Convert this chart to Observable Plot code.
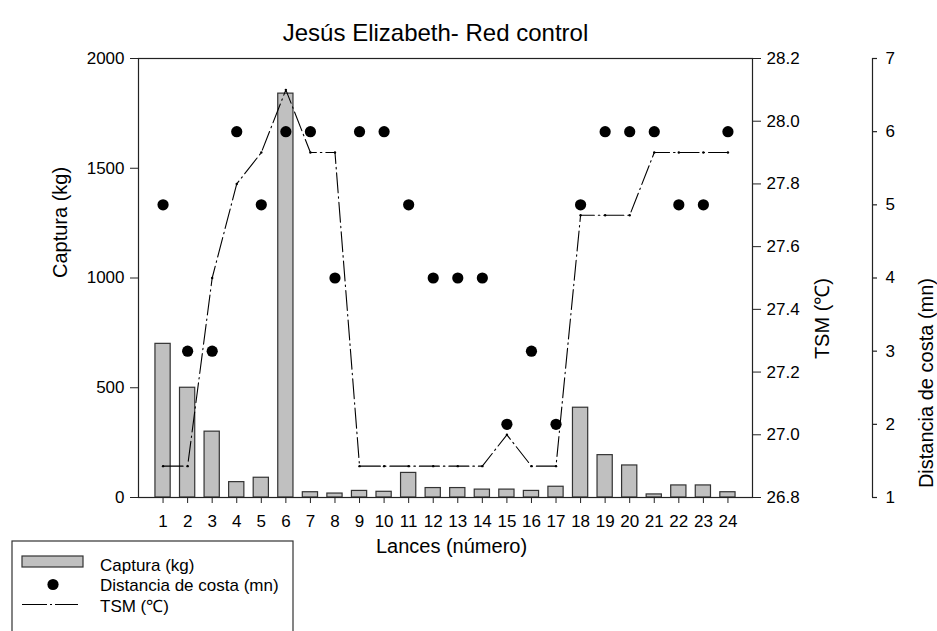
<!DOCTYPE html>
<html>
<head>
<meta charset="utf-8">
<script src="https://cdn.jsdelivr.net/npm/d3@7"></script>
<script src="https://cdn.jsdelivr.net/npm/@observablehq/plot@0.6"></script>
<style>
  html, body { margin: 0; padding: 0; background: #fff; }
  svg { display: block; }
</style>
</head>
<body>
<div id="chart"></div>
<script>
// ---- data ----
const lances = [1,2,3,4,5,6,7,8,9,10,11,12,13,14,15,16,17,18,19,20,21,22,23,24];
const captura = [700,500,300,70,90,1840,24,18,30,26,112,43,43,36,36,30,49,409,193,146,14,55,55,24];
const distancia = [5,3,3,6,5,6,6,4,6,6,5,4,4,4,2,3,2,5,6,6,6,5,5,6];
const tsm = [26.9,26.9,27.5,27.8,27.9,28.1,27.9,27.9,26.9,26.9,26.9,26.9,26.9,26.9,27.0,26.9,26.9,27.7,27.7,27.7,27.9,27.9,27.9,27.9];
const capturaTicks = [0,500,1000,1500,2000];
const tsmTicks = [26.8,27.0,27.2,27.4,27.6,27.8,28.0,28.2];
const distTicks = [1,2,3,4,5,6,7];

// ---- scale mapping helpers (secondary axes onto the main y scale) ----
const tsmDomain = [26.8, 28.2];
const distDomain = [1, 7];
const yMax = 2000;
const tsmToY = t => (t - tsmDomain[0]) / (tsmDomain[1] - tsmDomain[0]) * yMax;
const yToTsm = y => tsmDomain[0] + y / yMax * (tsmDomain[1] - tsmDomain[0]);
const distToY = d => (d - distDomain[0]) / (distDomain[1] - distDomain[0]) * yMax;

const rows = lances.map((l, i) => ({lance: l, captura: captura[i], dist: distancia[i], tsm: tsm[i]}));

const W = 937, H = 631;
const mL = 138, mR = 185, mT = 58, mB = 134;
const xDomain = [0, 25];
const pxPerUnit = (W - mL - mR) / (xDomain[1] - xDomain[0]);
const distAxisX = xDomain[1] + 120 / pxPerUnit;   // third axis, 120px right of frame
const distTickLen = 5 / pxPerUnit;
const barHalf = 0.31;
const font = "'Liberation Sans', Arial, Helvetica, sans-serif";
const dash = "20,4,1.5,4";

const chart = Plot.plot({
  width: W, height: H,
  marginLeft: mL, marginRight: mR, marginTop: mT, marginBottom: mB,
  style: {fontFamily: font, fontSize: "17px", color: "#000", background: "#fff", overflow: "visible"},
  x: {domain: xDomain},
  y: {domain: [0, yMax]},
  marks: [
    Plot.rect(rows, {x1: d => d.lance - barHalf, x2: d => d.lance + barHalf, y1: 0, y2: "captura",
      fill: "#c0c0c0", stroke: "#333", strokeWidth: 1.2}),
    Plot.line(rows, {x: "lance", y: d => tsmToY(d.tsm), stroke: "#000", strokeWidth: 1.1, strokeDasharray: dash}),
    Plot.dot(rows, {x: "lance", y: d => tsmToY(d.tsm), r: 1.2, fill: "#000"}),
    Plot.dot(rows, {x: "lance", y: d => distToY(d.dist), r: 5.6, fill: "#000"}),
    Plot.frame({stroke: "#222", strokeWidth: 1.2}),
    // bottom axis
    Plot.axisX(lances, {tickSize: 6, tickPadding: 11, tickFormat: d => String(d), label: null, stroke: "#222"}),
    // left axis
    Plot.axisY(capturaTicks, {anchor: "left", tickSize: 8, tickPadding: 6, tickFormat: d => String(d), label: null, stroke: "#222"}),
    // right TSM axis
    Plot.axisY(tsmTicks.map(tsmToY), {anchor: "right", tickSize: 8, tickPadding: 6,
      tickFormat: v => yToTsm(v).toFixed(1), label: null, stroke: "#222"}),
    // third axis: distance
    Plot.ruleX([distAxisX], {y1: 0, y2: yMax, stroke: "#222", strokeWidth: 1.2}),
    Plot.ruleY(distTicks, {y: d => distToY(d), x1: distAxisX, x2: distAxisX + distTickLen, stroke: "#222", strokeWidth: 1.2}),
    Plot.text(distTicks, {x: distAxisX, y: d => distToY(d), text: d => String(d), dx: 13, textAnchor: "start"}),
    // axis titles
    Plot.text(["Captura (kg)"], {text: d => d, frameAnchor: "left", dx: -78, rotate: -90, fontSize: 20}),
    Plot.text(["TSM (\u2103)"], {text: d => d, frameAnchor: "right", dx: 70, rotate: -90, fontSize: 20}),
    Plot.text(["Distancia de costa (mn)"], {text: d => d, frameAnchor: "right", dx: 174, rotate: -90, fontSize: 20}),
    Plot.text(["Lances (número)"], {text: d => d, frameAnchor: "bottom", dx: 6, dy: 55, fontSize: 20}),
    Plot.text(["Jesús Elizabeth- Red control"], {text: d => d, frameAnchor: "top", dx: -10, dy: -35, fontSize: 24})
  ]
});

document.getElementById("chart").appendChild(chart);

// ---- legend (bottom-left box) ----
const svg = d3.select(chart);
const lg = svg.append("g").attr("font-family", font).attr("font-size", 17).attr("fill", "#000")
  .attr("text-anchor", "start");
lg.append("rect").attr("x", 12).attr("y", 541).attr("width", 281).attr("height", 110)
  .attr("fill", "#fff").attr("stroke", "#333").attr("stroke-width", 1.2);
lg.append("rect").attr("x", 22).attr("y", 556).attr("width", 61).attr("height", 11)
  .attr("fill", "#c0c0c0").attr("stroke", "#333").attr("stroke-width", 1.2);
lg.append("circle").attr("cx", 53).attr("cy", 584.5).attr("r", 5.6).attr("fill", "#000");
lg.append("line").attr("x1", 22).attr("x2", 78).attr("y1", 604.5).attr("y2", 604.5)
  .attr("stroke", "#000").attr("stroke-width", 1.1).attr("stroke-dasharray", "25,3,2,3");
const legendItems = ["Captura (kg)", "Distancia de costa (mn)", "TSM (\u2103)"];
const legendY = [565, 585, 606];
legendItems.forEach((t, i) => {
  lg.append("text").attr("x", 100).attr("y", legendY[i]).attr("dy", "0.35em")
    .attr("text-anchor", "start").text(t);
});
</script>
</body>
</html>
